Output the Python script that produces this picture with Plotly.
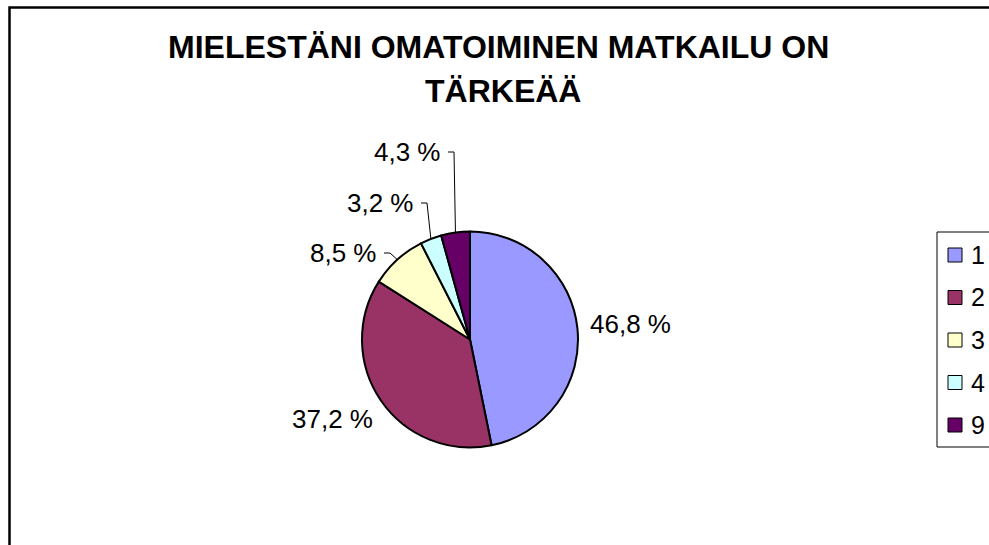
import math
import plotly.graph_objects as go

# ---- data ----
categories = ["1", "2", "3", "4", "9"]
values = [46.8, 37.2, 8.5, 3.2, 4.3]
label_texts = ["46,8 %", "37,2 %", "8,5 %", "3,2 %", "4,3 %"]
colors = ["#9999FF", "#993366", "#FFFFCC", "#CCFFFF", "#660066"]
title_lines = ["MIELESTÄNI OMATOIMINEN MATKAILU ON", "TÄRKEÄÄ"]

# ---- layout config (page pixels) ----
W, H = 989, 545
CX, CY, R = 470, 339.5, 108
# label placement: (x px, y px, xanchor, leader?)
label_place = [
    (588, 324, "left", False),
    (375, 419, "right", False),
    (379, 253, "right", True),
    (416, 203, "right", True),
    (443, 152, "right", True),
]

def px(x):
    return x / W

def py(y):
    return 1 - y / H

FONT = "Liberation Sans, Arial"

fig = go.Figure()
fig.add_trace(go.Pie(
    labels=categories,
    values=values,
    sort=False,
    direction="clockwise",
    rotation=0,
    marker=dict(colors=colors, line=dict(color="black", width=2)),
    textinfo="none",
    hoverinfo="label+percent",
    showlegend=False,
    domain=dict(x=[px(CX - R), px(CX + R)], y=[py(CY + R), py(CY - R)]),
))

shapes = []
annotations = []

# frame
shapes.append(dict(type="rect", xref="paper", yref="paper",
                   x0=px(9.5), x1=px(1200), y0=py(7.5), y1=py(800),
                   line=dict(color="black", width=2.5)))

# title
for t, cx, cy in zip(title_lines, [499, 503], [47, 91]):
    annotations.append(dict(text="<b>" + t + "</b>", x=px(cx), y=py(cy), xref="paper", yref="paper",
                            xanchor="center", yanchor="middle", showarrow=False,
                            font=dict(family=FONT, size=32, color="black")))

# slice labels + leader lines
total = sum(values)
cum = 0
for v, txt, (lx, ly, anchor, leader) in zip(values, label_texts, label_place):
    mid = (cum + v / 2) / total * 2 * math.pi
    cum += v
    ex = CX + R * math.sin(mid)
    ey = CY - R * math.cos(mid)
    annotations.append(dict(text=txt, x=px(lx), y=py(ly), xref="paper", yref="paper",
                            xanchor=anchor, yanchor="middle", showarrow=False,
                            font=dict(family=FONT, size=26, color="black")))
    if leader:
        sx = lx + 5
        hx = sx + 6
        path = f"M {px(sx)} {py(ly)} L {px(hx)} {py(ly)} L {px(ex)} {py(ey)}"
        shapes.append(dict(type="path", xref="paper", yref="paper", path=path,
                           line=dict(color="black", width=1)))

# manual legend
LX0, LY0, LY1 = 937, 232, 447
shapes.append(dict(type="rect", xref="paper", yref="paper",
                   x0=px(LX0), x1=px(1100), y0=py(LY0), y1=py(LY1),
                   line=dict(color="black", width=1), fillcolor="white", layer="below"))
step = 42.5
for i, (c, col) in enumerate(zip(categories, colors)):
    yc = 255 + i * step
    shapes.append(dict(type="rect", xref="paper", yref="paper",
                       x0=px(948), x1=px(962), y0=py(yc - 7), y1=py(yc + 7),
                       line=dict(color="black", width=1), fillcolor=col))
    annotations.append(dict(text=c, x=px(969), y=py(yc), xref="paper", yref="paper",
                            xanchor="left", yanchor="middle", showarrow=False,
                            font=dict(family=FONT, size=25, color="black")))

fig.update_layout(
    width=W, height=H,
    margin=dict(l=0, r=0, t=0, b=0),
    paper_bgcolor="white", plot_bgcolor="white",
    shapes=shapes, annotations=annotations,
    showlegend=False,
)

fig.write_html("out.html", config={"displayModeBar": False},
               post_script="document.body.style.margin='0';document.body.style.overflow='hidden';")
